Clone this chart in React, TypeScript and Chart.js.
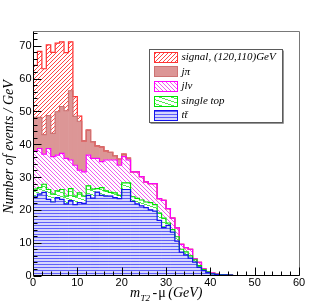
import React, { useEffect, useRef } from 'react';
import { Chart, registerables } from 'chart.js';

Chart.register(...registerables);

// m_T2 - mu bins, 1 GeV wide, starting at 0 GeV (events / GeV per process)
const ttbar = [24.0, 24.8, 25.3, 23.2, 22.4, 23.7, 23.2, 21.8, 22.8, 21.6, 22.2, 22.0, 24.4, 23.6, 25.4, 24.4, 24.2, 24.2, 23.7, 23.4, 26.2, 26.2, 22.6, 21.8, 21.2, 20.7, 20.0, 19.6, 16.8, 14.6, 15.3, 13.2, 10.5, 7.1, 6.3, 5.3, 4.1, 2.5, 1.5, 0.9, 0.5, 0.3, 0.2, 0.2, 0.1];
const singleTop = [2.3, 2.0, 2.5, 3.0, 2.4, 2.1, 3.0, 2.4, 3.7, 2.6, 3.0, 2.2, 2.9, 2.7, 1.1, 2.4, 1.6, 1.1, 1.5, 1.0, 2.0, 2.0, 1.4, 1.7, 1.8, 1.7, 2.2, 2.0, 2.2, 2.9, 0.7, 0.8, 1.3, 0.9, 0.9, 0.7, 0.7, 0.5, 0.3, 0.2, 0.1, 0.05, 0.05, 0, 0];
const jlnu = [11.7, 11.9, 9.2, 12.5, 11.4, 10.9, 11.0, 11.5, 8.7, 9.4, 6.9, 7.4, 9.4, 9.4, 9.2, 7.9, 9.4, 9.9, 10.0, 9.2, 8.0, 7.0, 7.6, 8.1, 7.1, 6.1, 5.8, 6.4, 4.4, 5.4, 4.4, 3.5, 2.7, 1.5, 1.3, 2.0, 0.3, 1.0, 0.2, 0.1, 0.1, 0.05, 0.05, 0, 0];
const jpi = [10.2, 9.5, 5.9, 10.0, 7.1, 13.2, 14.3, 14.5, 21.1, 14.9, 14.9, 9.4, 7.6, 5.1, 3.8, 4.5, 2.8, 2.3, 1.3, 1.9, 0.8, 0.6, 0, 0, 0, 0, 0, 0, 0, 0, 0, 0, 0, 0, 0, 0, 0, 0, 0, 0, 0, 0, 0, 0, 0];
const signal = [15.8, 20.1, 20.1, 21.6, 24.7, 20.9, 19.7, 17.7, 14.9, 6.0, 1.6, 0, 0, 0, 0, 0, 0, 0, 0, 0, 0, 0, 0, 0, 0, 0, 0, 0, 0, 0, 0, 0, 0, 0, 0, 0, 0, 0, 0, 0, 0, 0, 0, 0, 0];

const xTicks = [0, 10, 20, 30, 40, 50, 60];
const yTicks = [0, 10, 20, 30, 40, 50, 60, 70];
const legendLabels = ['signal, (120,110)GeV', 'jπ', 'jlν', 'single top', 'tt̄'];

const X_MAX = 60;
const Y_MAX = 74.5;

function pixelPattern(main: CanvasRenderingContext2D, w: number, h: number, bg: string, fg: string, pixels: number[][]) {
  const c = document.createElement('canvas');
  c.width = w;
  c.height = h;
  const g = c.getContext('2d')!;
  g.fillStyle = bg;
  g.fillRect(0, 0, w, h);
  g.fillStyle = fg;
  pixels.forEach(([px, py]) => g.fillRect(px, py, 1, 1));
  return main.createPattern(c, 'repeat')!;
}

export default function App() {
  const ref = useRef<HTMLCanvasElement>(null);

  useEffect(() => {
    document.body.style.margin = '0';
    const canvas = ref.current!;
    const main = canvas.getContext('2d')!;

    const ttPat = pixelPattern(main, 1, 3, 'rgb(214,214,252)', 'rgb(95,95,250)', [[0, 0]]);
    const stPixels: number[][] = [];
    for (let px = 0; px < 12; px++) stPixels.push([px, Math.floor(px / 3)]);
    const stPat = pixelPattern(main, 12, 4, '#ffffff', 'rgb(80,235,80)', stPixels);
    const jlnuPat = pixelPattern(main, 4, 4, '#ffffff', 'rgb(240,90,240)', [[0, 0], [1, 1], [2, 2], [3, 3]]);
    const jpiFill = 'rgb(220,150,150)';
    const sigPat = pixelPattern(main, 4, 4, '#ffffff', 'rgb(255,70,70)', [[0, 0], [3, 1], [2, 2], [1, 3]]);

    const layers = [ttbar, singleTop, jlnu, jpi, signal];
    const fills: (string | CanvasPattern)[] = [ttPat, stPat, jlnuPat, jpiFill, sigPat];
    const lineColors = ['rgb(20,20,235)', 'rgb(0,225,0)', 'rgb(255,0,255)', 'rgb(205,115,115)', 'rgb(255,50,50)'];
    const n = ttbar.length;

    const lowers: number[][] = [];
    const uppers: number[][] = [];
    let acc = ttbar.map(() => 0);
    layers.forEach((arr) => {
      lowers.push(acc.slice());
      acc = acc.map((v, i) => v + arr[i]);
      uppers.push(acc.slice());
    });

    const datasets: any[] = [];
    layers.forEach((_, k) => {
      datasets.push({
        type: 'bar',
        data: uppers[k].map((u, i) => ({ x: i + 0.5, y: [lowers[k][i], u] })),
        backgroundColor: fills[k],
        borderWidth: 0,
        inflateAmount: 0.3,
        grouped: false,
        barPercentage: 1,
        categoryPercentage: 1,
        order: 10,
      });
    });
    layers.forEach((_, k) => {
      const pts = uppers[k].map((u, i) => ({ x: i, y: u }));
      pts.push({ x: n, y: 0 });
      datasets.push({
        type: 'line',
        data: pts,
        borderColor: lineColors[k],
        backgroundColor: 'rgba(0,0,0,0)',
        borderWidth: 1.2,
        pointRadius: 0,
        fill: false,
        stepped: 'before',
        order: 1 + k,
      });
    });

    const decor = {
      id: 'decor',
      afterDraw(chart: any) {
        const ctx: CanvasRenderingContext2D = chart.ctx;
        const xs = chart.scales.x;
        const ys = chart.scales.y;
        const { left, right, top, bottom } = chart.chartArea;
        const L = Math.round(left) + 0.5;
        const R = Math.round(right) + 0.5;
        const T = Math.round(top) + 0.5;
        const B = Math.floor(bottom) + 0.5;
        ctx.save();
        ctx.lineWidth = 1;
        ctx.strokeStyle = 'rgb(120,120,120)';
        ctx.beginPath();
        ctx.moveTo(L, T); ctx.lineTo(R, T); ctx.lineTo(R, B);
        ctx.stroke();
        ctx.strokeStyle = '#000';
        ctx.beginPath();
        ctx.moveTo(L, T); ctx.lineTo(L, B); ctx.lineTo(R, B);
        for (let v = 0; v <= Y_MAX; v += 2) {
          const y = Math.round(ys.getPixelForValue(v)) + 0.5;
          const len = v % 10 === 0 ? 8 : 4;
          ctx.moveTo(L, y); ctx.lineTo(L + len, y);
        }
        for (let v = 0; v <= X_MAX; v += 2) {
          const x = Math.round(xs.getPixelForValue(v)) + 0.5;
          const len = v % 10 === 0 ? 8 : 4;
          ctx.moveTo(x, B); ctx.lineTo(x, B - len);
        }
        ctx.stroke();

        ctx.fillStyle = '#000';
        ctx.font = '11px "Liberation Sans", Arial, sans-serif';
        ctx.textAlign = 'right';
        ctx.textBaseline = 'middle';
        yTicks.forEach((v) => ctx.fillText(String(v), left - 1.5, ys.getPixelForValue(v) + 0.5));
        ctx.textAlign = 'center';
        xTicks.forEach((v) => ctx.fillText(String(v), xs.getPixelForValue(v), bottom + 7.5));

        ctx.save();
        ctx.translate(13, 147);
        ctx.rotate(-Math.PI / 2);
        ctx.font = 'italic 14px "Liberation Serif", "Times New Roman", serif';
        ctx.textAlign = 'center';
        ctx.textBaseline = 'alphabetic';
        ctx.fillText('Number of events / GeV', 0, 0);
        ctx.restore();

        ctx.textAlign = 'left';
        ctx.textBaseline = 'alphabetic';
        let x = 130;
        const base = 297;
        ctx.font = 'italic 14px "Liberation Serif", "Times New Roman", serif';
        ctx.fillText('m', x, base);
        x += ctx.measureText('m').width + 0.5;
        ctx.font = 'italic 9px "Liberation Serif", "Times New Roman", serif';
        ctx.fillText('T2', x, base + 3.5);
        x += ctx.measureText('T2').width + 2.5;
        ctx.font = '14px "Liberation Serif", "Times New Roman", serif';
        ctx.fillText('-', x, base);
        x += ctx.measureText('-').width + 1;
        ctx.fillText('μ', x, base);
        x += ctx.measureText('μ').width + 2.5;
        ctx.font = 'italic 14px "Liberation Serif", "Times New Roman", serif';
        ctx.fillText('(GeV)', x, base);

        const bx = 149.5, by = 49.5, bw = 133, bh = 73;
        ctx.fillStyle = '#fff';
        ctx.fillRect(bx, by, bw, bh);
        ctx.strokeStyle = 'rgb(90,90,90)';
        ctx.strokeRect(bx, by, bw, bh);
        ctx.strokeStyle = 'rgb(150,150,150)';
        ctx.beginPath();
        ctx.moveTo(bx + 1, by + bh + 1); ctx.lineTo(bx + bw + 1, by + bh + 1); ctx.lineTo(bx + bw + 1, by + 1);
        ctx.stroke();
        const order = [4, 3, 2, 1, 0];
        order.forEach((k, row) => {
          const cy = 56.7 + row * 14.6;
          const sx = 154.5, sy = Math.round(cy - 5) + 0.5, sw = 23, sh = 10;
          ctx.fillStyle = fills[k] as any;
          ctx.fillRect(sx, sy, sw, sh);
          ctx.strokeStyle = lineColors[k];
          ctx.lineWidth = 1;
          ctx.strokeRect(sx, sy, sw, sh);
          ctx.fillStyle = '#000';
          ctx.font = 'italic 11px "Liberation Serif", "Times New Roman", serif';
          ctx.textAlign = 'left';
          ctx.textBaseline = 'middle';
          ctx.fillText(legendLabels[row], 181.5, cy + 0.5);
        });
        ctx.restore();
      },
    };

    const chart = new Chart(canvas, {
      type: 'bar',
      data: { datasets },
      options: {
        animation: false,
        responsive: false,
        devicePixelRatio: 1,
        events: [],
        layout: { padding: { left: 33, right: 33, top: 31, bottom: 31.5 } },
        plugins: { legend: { display: false }, tooltip: { enabled: false }, title: { display: false } },
        scales: {
          x: { type: 'linear', min: 0, max: X_MAX, offset: false, display: false },
          y: { type: 'linear', min: 0, max: Y_MAX, display: false },
        },
      } as any,
      plugins: [decor],
    });
    return () => chart.destroy();
  }, []);

  return <canvas ref={ref} width={332} height={307} style={{ display: 'block', width: 332, height: 307 }} />;
}
